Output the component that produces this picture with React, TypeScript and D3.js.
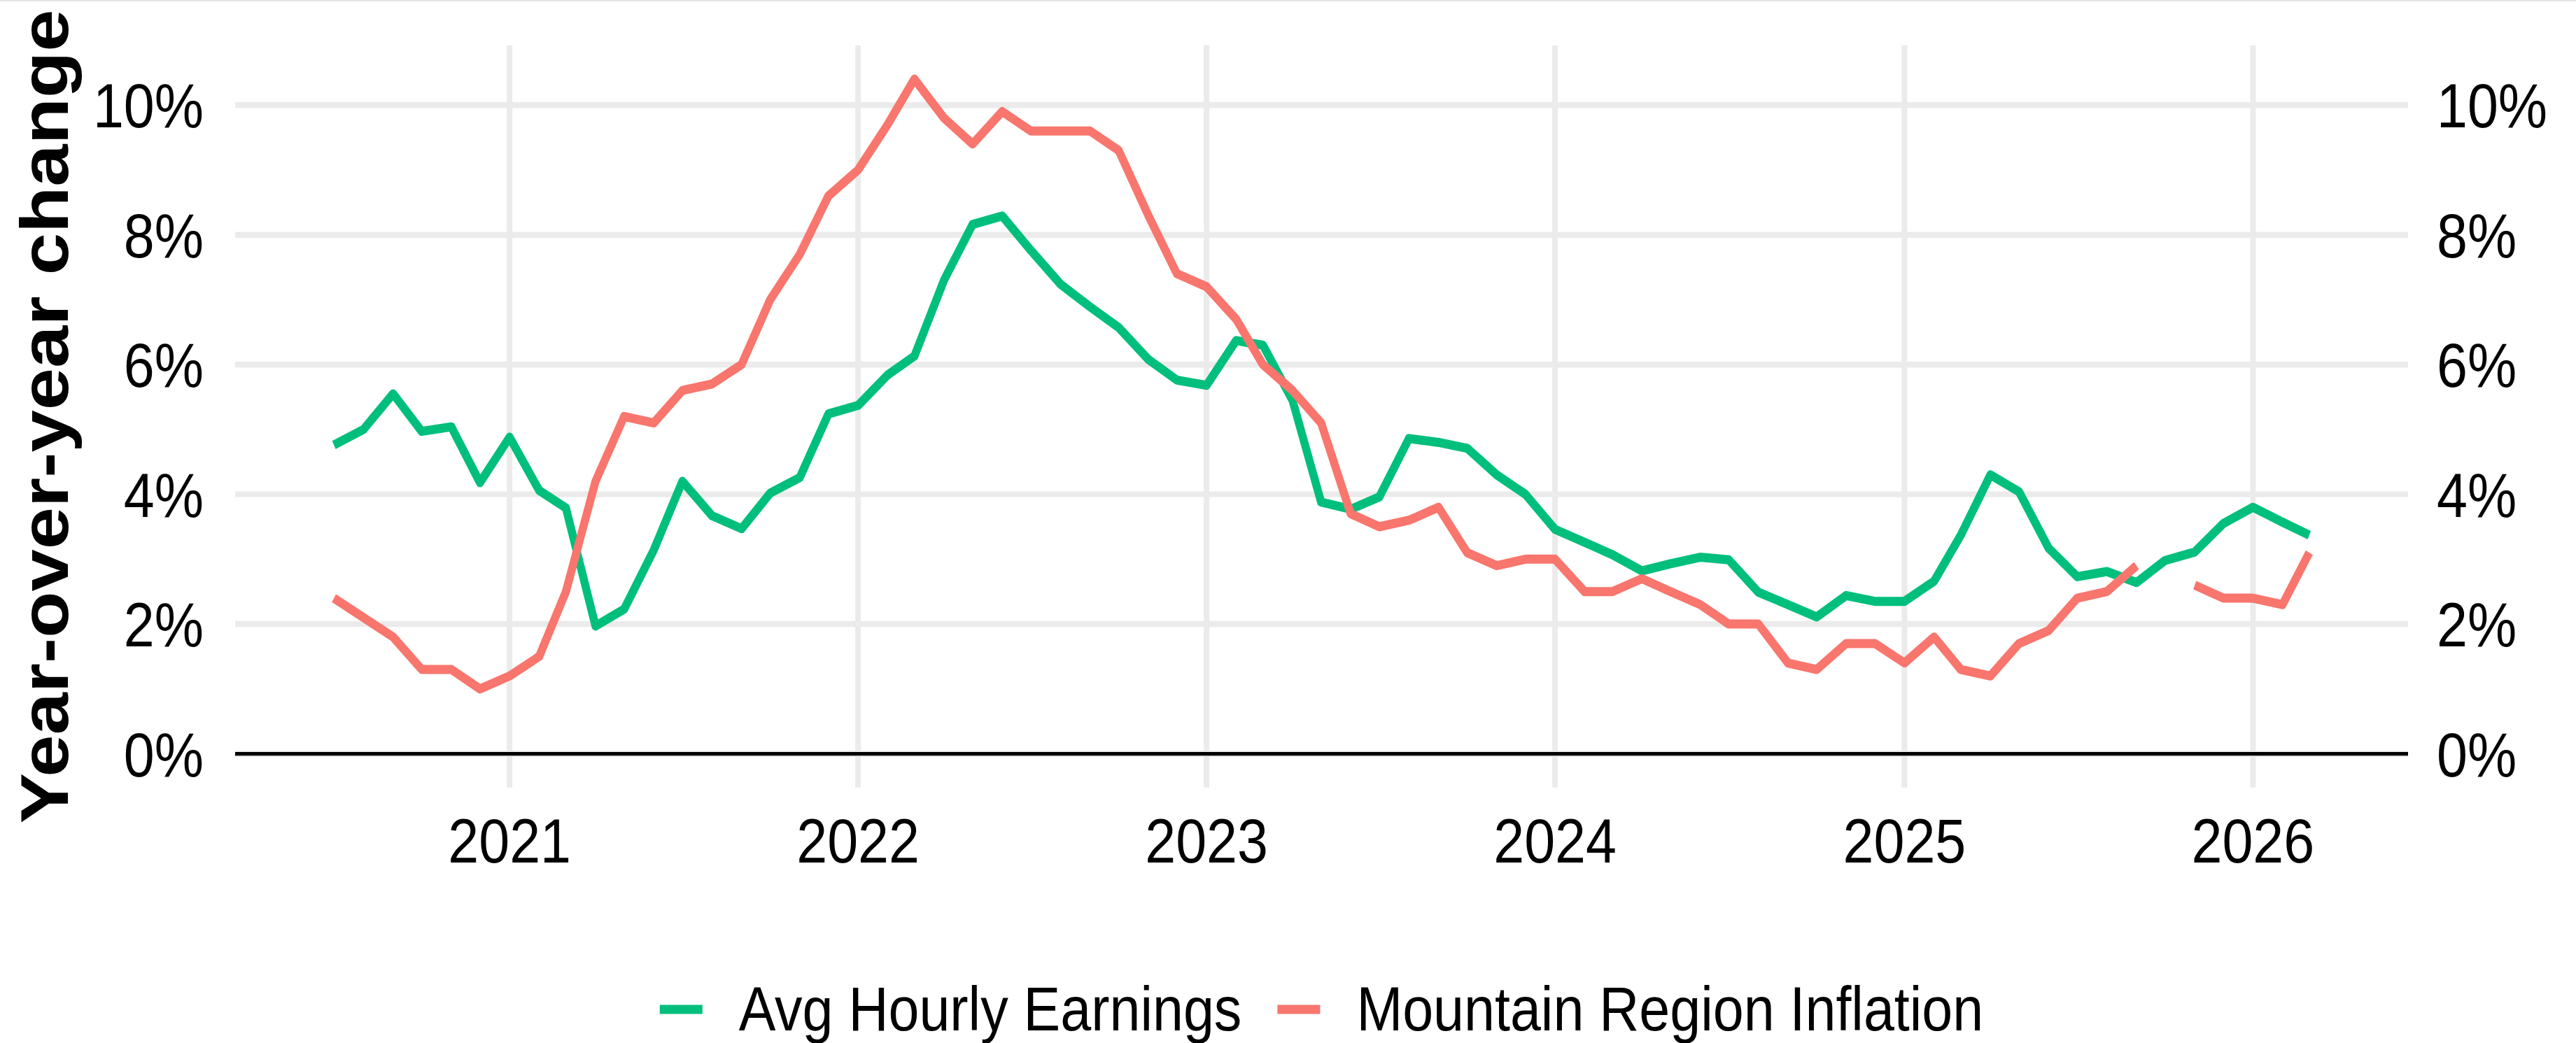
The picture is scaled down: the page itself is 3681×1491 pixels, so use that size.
import React, { useEffect, useRef } from 'react';
import * as d3 from 'd3';

const W = 3681;
const H = 1491;
// the reference looks drawn flatter and then stretched taller
const STRETCH = 1.13;

const firstMonth = '2020-07-01';
const lastMonth = '2026-03-01';

const earnings = [
  4.76, 5.0, 5.55, 4.97, 5.04, 4.18,
  4.88, 4.06, 3.79, 1.97, 2.23, 3.14, 4.2, 3.67, 3.47, 4.02, 4.26, 5.24,
  5.37, 5.84, 6.13, 7.3, 8.16, 8.29, 7.76, 7.24, 6.89, 6.57, 6.08, 5.76,
  5.68, 6.37, 6.3, 5.45, 3.88, 3.77, 3.96, 4.86, 4.8, 4.71, 4.3, 4.0,
  3.46, 3.26, 3.07, 2.82, 2.93, 3.03, 2.99, 2.49, 2.3, 2.11, 2.44, 2.35,
  2.35, 2.66, 3.37, 4.3, 4.04, 3.17, 2.73, 2.81, 2.64, 2.98, 3.11, 3.55,
  3.8, 3.57, 3.37,
];

const inflation = [
  2.4, 2.1, 1.8, 1.3, 1.3, 1.0,
  1.2, 1.5, 2.5, 4.2, 5.2, 5.1, 5.6, 5.7, 6.0, 7.0, 7.7, 8.6,
  9.0, 9.7, 10.4, 9.8, 9.4, 9.9, 9.6, 9.6, 9.6, 9.3, 8.3, 7.4,
  7.2, 6.7, 6.0, 5.6, 5.1, 3.7, 3.5, 3.6, 3.8, 3.1, 2.9, 3.0,
  3.0, 2.5, 2.5, 2.7, 2.5, 2.3, 2.0, 2.0, 1.4, 1.3, 1.7, 1.7,
  1.4, 1.8, 1.3, 1.2, 1.7, 1.9, 2.4, 2.5, 2.9, null, 2.6, 2.4,
  2.4, 2.3, 3.1,
];

const seriesNames = ['Avg Hourly Earnings', 'Mountain Region Inflation'];
const seriesColors = ['#00BF7D', '#F8766D'];

const yTicks = [0, 2, 4, 6, 8, 10];
const xTickYears = ['2021', '2022', '2023', '2024', '2025', '2026'];

const FONT = '"Liberation Sans", Arial, Helvetica, sans-serif';

const App = () => {
  const ref = useRef<SVGSVGElement>(null);

  useEffect(() => {
    const svg = d3.select(ref.current);
    svg.selectAll('*').remove();

    svg.append('rect').attr('width', W).attr('height', H).attr('fill', '#fff');
    svg.append('rect').attr('width', W).attr('height', 2).attr('fill', '#e4e4e4');

    // everything below is laid out in the "unstretched" frame
    const g = svg.append('g').attr('transform', `scale(1, ${STRETCH})`);

    const left = 336;
    const right = 3441;
    const top = 57.4;
    const bottom = 996.3;

    const months = d3.utcMonth.range(
      new Date(firstMonth),
      d3.utcMonth.offset(new Date(lastMonth), 1)
    );
    const [d0, d1] = d3.extent(months) as [Date, Date];
    const pad = (+d1 - +d0) * 0.05;
    const x = d3.scaleUtc()
      .domain([new Date(+d0 - pad), new Date(+d1 + pad)])
      .range([left, right]);

    const yMax = d3.max(inflation.concat(earnings), d => d ?? 0) as number;
    const y = d3.scaleLinear()
      .domain([0 - yMax * 0.05, yMax * 1.05])
      .range([bottom, top]);

    // grid
    g.append('g')
      .selectAll('line')
      .data(yTicks)
      .enter()
      .append('line')
      .attr('x1', left)
      .attr('x2', right)
      .attr('y1', d => y(d))
      .attr('y2', d => y(d))
      .attr('stroke', '#EBEBEB')
      .attr('stroke-width', 7.5);

    g.append('g')
      .selectAll('line')
      .data(xTickYears)
      .enter()
      .append('line')
      .attr('x1', d => x(new Date(`${d}-01-01`)))
      .attr('x2', d => x(new Date(`${d}-01-01`)))
      .attr('y1', top)
      .attr('y2', bottom)
      .attr('stroke', '#EBEBEB')
      .attr('stroke-width', 8);

    // zero line
    g.append('line')
      .attr('x1', left)
      .attr('x2', right)
      .attr('y1', y(0))
      .attr('y2', y(0))
      .attr('stroke', '#000')
      .attr('stroke-width', 4.5);

    // series
    const line = d3.line<number | null>()
      .defined(d => d != null)
      .x((_, i) => x(months[i]))
      .y(d => y(d as number));

    [earnings, inflation].forEach((values, i) => {
      g.append('path')
        .datum(values)
        .attr('d', line)
        .attr('fill', 'none')
        .attr('stroke', seriesColors[i])
        .attr('stroke-width', 11.5)
        .attr('stroke-linejoin', 'round')
        .attr('stroke-linecap', 'butt');
    });

    // axis labels
    const tickFont = 79;
    const labelMid = tickFont * 0.358;

    g.append('g')
      .selectAll('text')
      .data(yTicks)
      .enter()
      .append('text')
      .attr('x', 291)
      .attr('y', d => y(d) + labelMid)
      .attr('text-anchor', 'end')
      .style('font-family', FONT)
      .style('font-size', `${tickFont}px`)
      .attr('fill', '#000')
      .text(d => `${d}%`);

    g.append('g')
      .selectAll('text')
      .data(yTicks)
      .enter()
      .append('text')
      .attr('x', 3482)
      .attr('y', d => y(d) + labelMid)
      .attr('text-anchor', 'start')
      .style('font-family', FONT)
      .style('font-size', `${tickFont}px`)
      .attr('fill', '#000')
      .text(d => `${d}%`);

    g.append('g')
      .selectAll('text')
      .data(xTickYears)
      .enter()
      .append('text')
      .attr('x', d => x(new Date(`${d}-01-01`)))
      .attr('y', 1091)
      .attr('text-anchor', 'middle')
      .style('font-family', FONT)
      .style('font-size', `${tickFont}px`)
      .attr('fill', '#000')
      .text(d => d);

    // y title
    g.append('text')
      .attr('transform', `translate(97, ${(top + bottom) / 2}) rotate(-90)`)
      .attr('text-anchor', 'middle')
      .style('font-family', FONT)
      .style('font-size', '96px')
      .style('font-weight', 'bold')
      .attr('fill', '#000')
      .text('Year-over-year change');

    // legend
    const keyW = 61;
    const keyGap = 52;
    const itemGap = 51;
    const legendY = 1303.5;
    const keyY = 1277;

    const legend = g.append('g');
    const items = seriesNames.map((name, i) => {
      const item = legend.append('g');
      item.append('line')
        .attr('x1', 0)
        .attr('x2', keyW)
        .attr('y1', keyY)
        .attr('y2', keyY)
        .attr('stroke', seriesColors[i])
        .attr('stroke-width', 11.5);
      const t = item.append('text')
        .attr('x', keyW + keyGap)
        .attr('y', legendY)
        .style('font-family', FONT)
        .style('font-size', `${tickFont}px`)
        .attr('fill', '#000')
        .text(name);
      const w = (t.node() as SVGTextElement).getComputedTextLength();
      return { item, width: keyW + keyGap + w };
    });
    const total = d3.sum(items, d => d.width) + itemGap * (items.length - 1);
    let cx = (left + right) / 2 - total / 2;
    items.forEach(d => {
      d.item.attr('transform', `translate(${cx}, 0)`);
      cx += d.width + itemGap;
    });
  }, []);

  return (
    <svg
      ref={ref}
      width={W}
      height={H}
      style={{ position: 'absolute', left: 0, top: 0, display: 'block' }}
    />
  );
};

export default App;
